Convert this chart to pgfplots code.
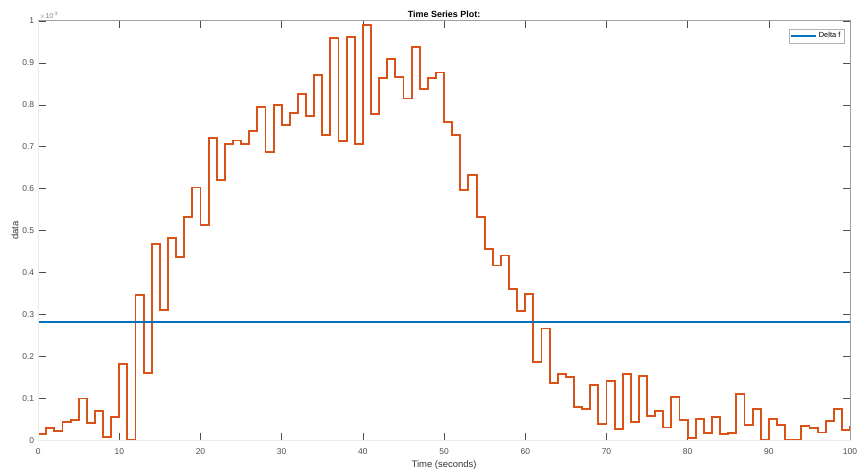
\documentclass[border=0pt]{standalone}
\usepackage{pgfplots}
\pgfplotsset{compat=1.18}
\usepackage{fontspec}
\setmainfont{Liberation Sans}
\usetikzlibrary{calc}
\definecolor{mlorange}{HTML}{D95319}
\definecolor{mlblue}{HTML}{0072BD}
\definecolor{tickgray}{HTML}{4D4D4D}
\pgfplotstableread{
t v
0 0.016
1 0.030
2 0.023
3 0.044
4 0.048
5 0.100
6 0.042
7 0.071
8 0.008
9 0.056
10 0.182
11 0.001
12 0.347
13 0.161
14 0.469
15 0.311
16 0.483
17 0.437
18 0.533
19 0.603
20 0.513
21 0.721
22 0.620
23 0.707
24 0.715
25 0.706
26 0.737
27 0.794
28 0.687
29 0.799
30 0.752
31 0.781
32 0.825
33 0.774
34 0.872
35 0.727
36 0.959
37 0.713
38 0.961
39 0.707
40 0.991
41 0.779
42 0.864
43 0.909
44 0.867
45 0.815
46 0.938
47 0.837
48 0.863
49 0.877
50 0.759
51 0.727
52 0.596
53 0.633
54 0.532
55 0.457
56 0.417
57 0.441
58 0.362
59 0.308
60 0.349
61 0.187
62 0.267
63 0.136
64 0.159
65 0.152
66 0.080
67 0.074
68 0.133
69 0.040
70 0.141
71 0.028
72 0.158
73 0.044
74 0.154
75 0.058
76 0.070
77 0.031
78 0.103
79 0.049
80 0.006
81 0.051
82 0.018
83 0.055
84 0.016
85 0.017
86 0.110
87 0.036
88 0.076
89 0.001
90 0.052
91 0.037
92 0.002
93 0.001
94 0.034
95 0.030
96 0.019
97 0.046
98 0.075
99 0.024
100 0.035
}\stairsdata
\begin{document}
\begin{tikzpicture}
\begin{axis}[
  scale only axis,
  width=816pt, height=421.7pt,
  xmin=0, xmax=100, ymin=0, ymax=1,
  xtick={0,10,...,100},
  ytick={0,0.1,...,1},
  yticklabels={0,0.1,0.2,0.3,0.4,0.5,0.6,0.7,0.8,0.9,1},
  tick align=inside,
  major tick length=7.5pt,
  tick style={tickgray, line width=0.6pt},
  axis line style={draw=none},
  ticklabel style={font=\fontsize{8.5}{9}\selectfont, text=tickgray},
  /pgf/number format/assume math mode=true,
  xticklabel style={yshift=-5pt},
  yticklabel style={xshift=-0.5pt},
  xlabel={Time (seconds)},
  ylabel={data},
  label style={font=\fontsize{9.5}{10}\selectfont, text=black!80},
  xlabel style={yshift=1pt},
  ylabel style={yshift=-3pt},
  title={Time Series Plot:},
  title style={font=\bfseries\fontsize{9}{10}\selectfont, yshift=-6pt},
  legend style={at={(rel axis cs:1,1)}, anchor=north east, xshift=-6pt, yshift=-8pt,
    font=\fontsize{7.5}{8}\selectfont, draw=gray!60, inner sep=1.5pt,
    row sep=0pt},
  legend cell align=left,
  legend image code/.code={\draw[mlblue, line width=1.4pt] (0pt,0pt) -- (25pt,0pt);},
  clip mode=individual,
]
\addplot[const plot, draw=mlorange, line width=1.9pt, forget plot] table[x=t, y=v] {\stairsdata};
\addplot[draw=mlblue, line width=1.9pt] coordinates {(0,0.283) (100,0.283)};
\addlegendentry{Delta f}
\draw[gray!15, line width=0.8pt] (rel axis cs:0,1) -- (rel axis cs:0,0) -- (rel axis cs:1,0);
\draw[gray!75, line width=1pt] (rel axis cs:0,1) -- (rel axis cs:1,1) -- (rel axis cs:1,0);
\coordinate (O) at (rel axis cs:0,0);
\coordinate (T) at (rel axis cs:1,1);
\node[anchor=south west, inner sep=0pt, text=gray, font=\fontsize{7}{8}\selectfont] at ($(rel axis cs:0,1)+(1pt,1.5pt)$) {$\times$10\textsuperscript{-3}};
\end{axis}
\pgfresetboundingbox
\path ($(O)+(-38.3pt,-30.5pt)$) rectangle ($(T)+(8pt,21pt)$);
\end{tikzpicture}
\end{document}
